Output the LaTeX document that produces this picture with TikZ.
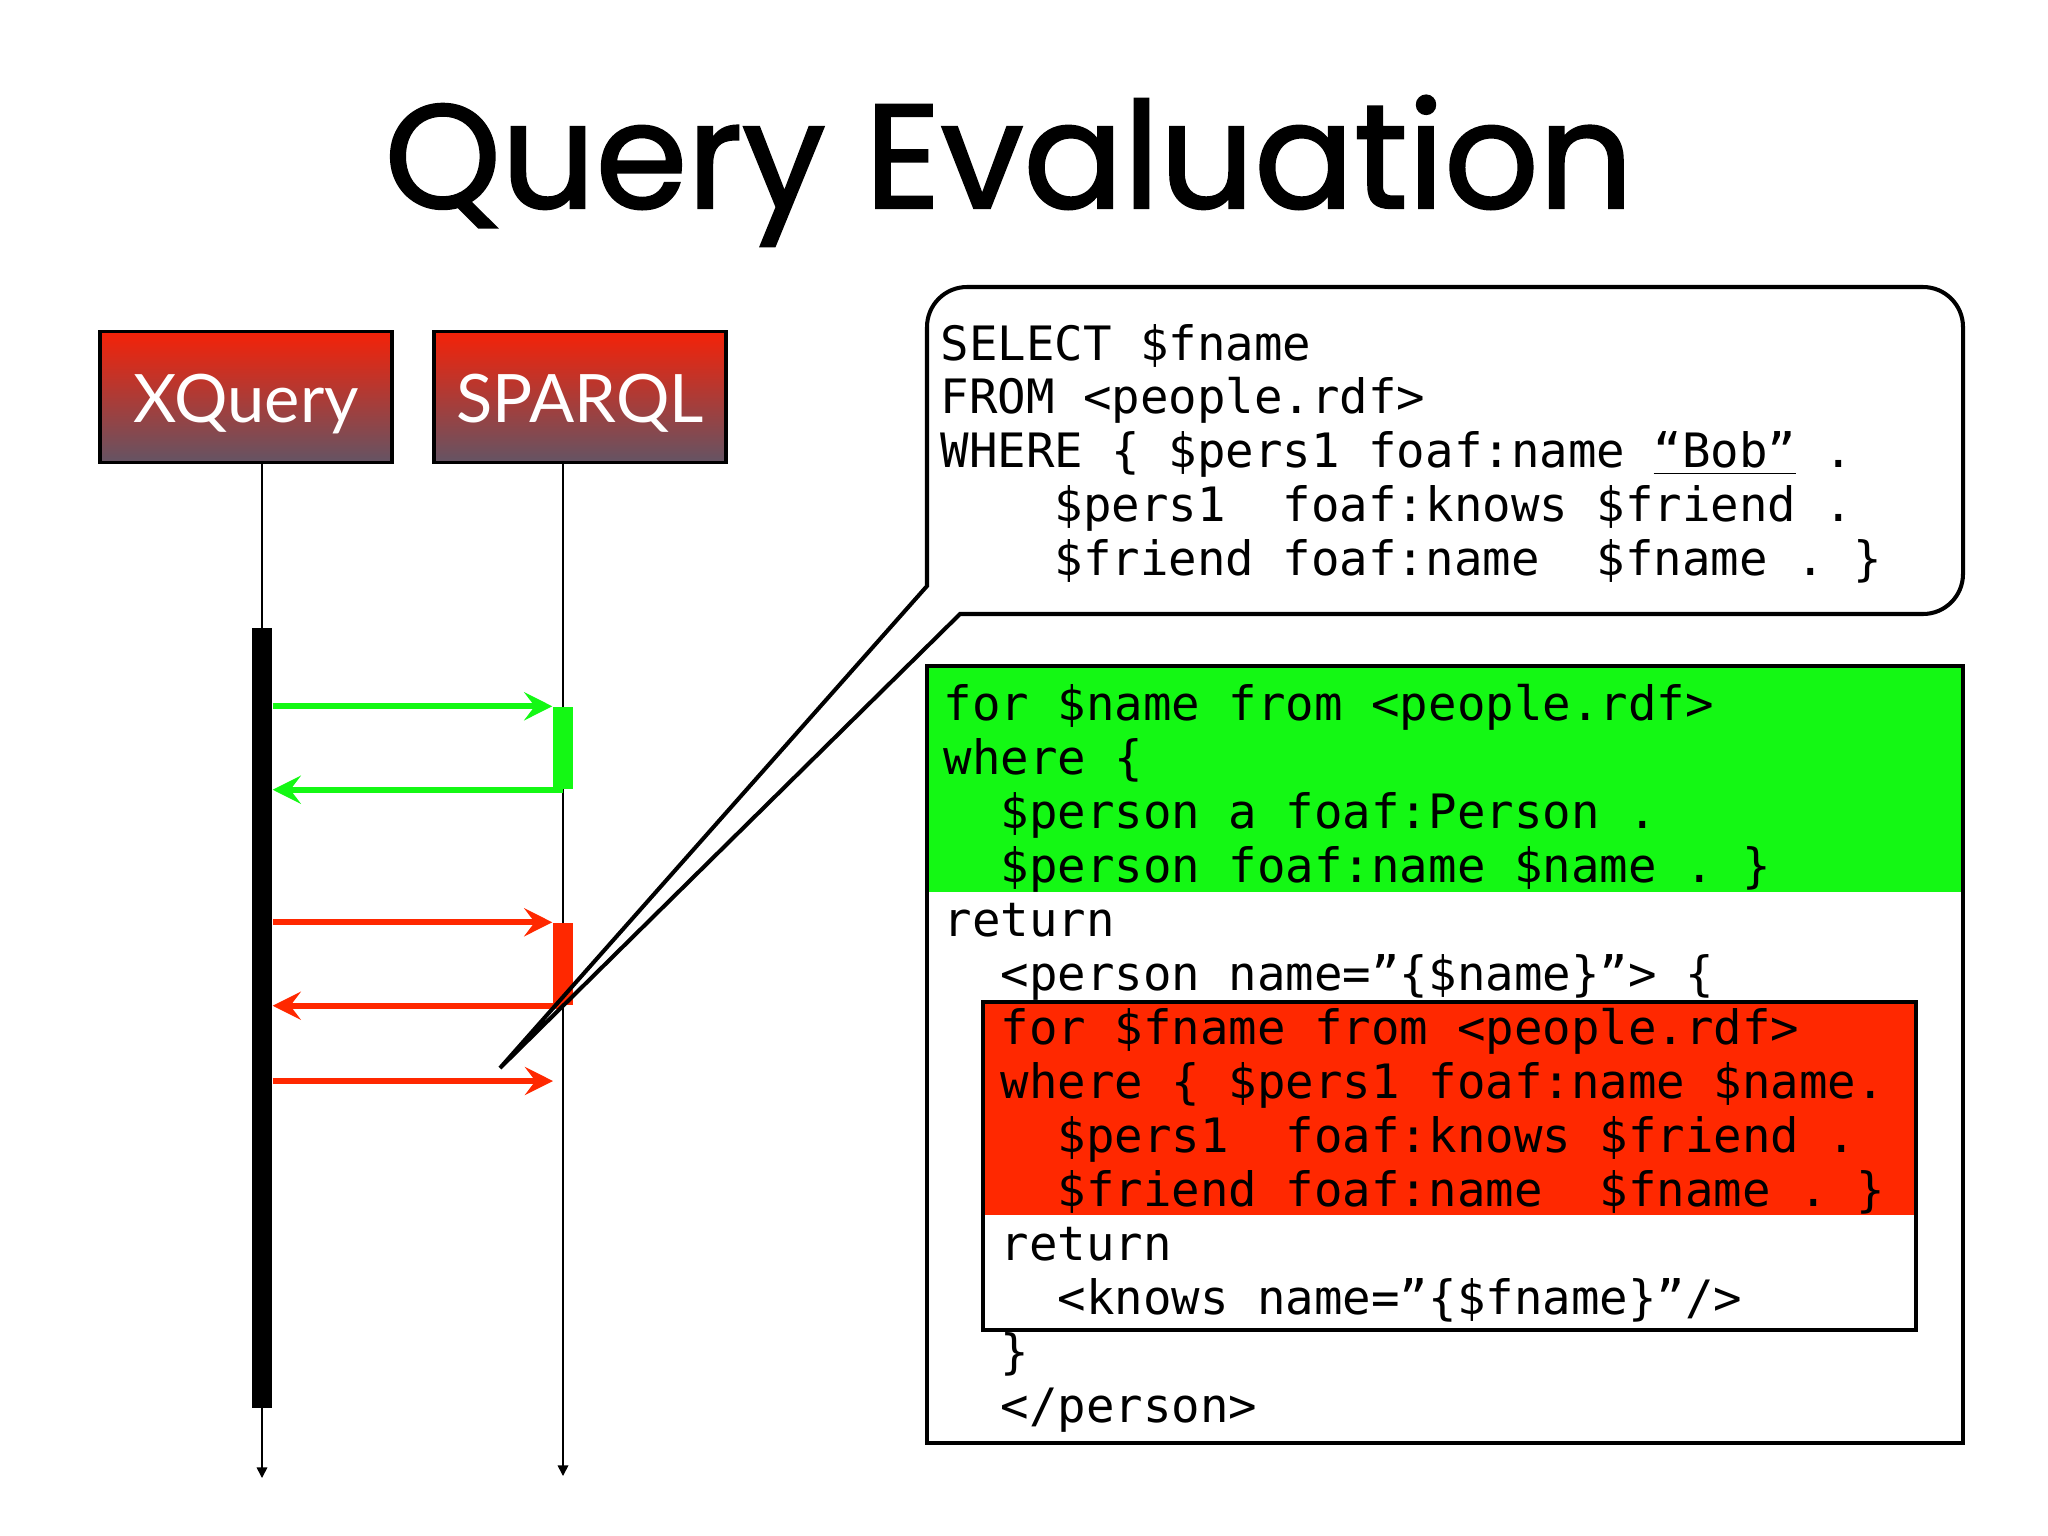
\documentclass[tikz,border=0pt]{standalone}
\usepackage{fontspec}
\usetikzlibrary{arrows.meta}
\newfontfamily\codefont{DejaVu Sans Mono}
\newfontfamily\labelfont{Lato}
\newfontfamily\handfont[FakeBold=1.6]{Poppins}
\definecolor{msggreen}{RGB}{20,248,20}
\definecolor{msgred}{RGB}{255,40,0}
\definecolor{boxtop}{RGB}{245,34,8}
\definecolor{boxbottom}{RGB}{100,84,100}
\tikzstyle{actor}=[rectangle,draw=black,line width=1.1pt,top color=boxtop,bottom color=boxbottom,minimum width=2.92cm,minimum height=1.31cm,text=white,font=\labelfont\fontsize{19}{22}\selectfont,text height=0.5cm,text depth=0cm]
\tikzstyle{lifeline}=[draw=black,line width=0.45pt,-{Triangle[length=3pt,width=3pt]}]
\tikzstyle{activation}=[rectangle,inner sep=0pt,minimum width=0.2cm]
\tikzstyle{msg}=[line width=1.7pt,-{Stealth[length=8pt,width=8pt,inset=3pt]}]
\tikzstyle{code}=[anchor=base west,inner sep=0pt,font=\codefont\fontsize{13.47}{15.4}\selectfont]
\tikzstyle{frame}=[draw=black,line width=1.15pt]
\newcommand{\codetab}{\hphantom{xx}}
\frenchspacing
\begin{document}
\begin{tikzpicture}[x=0.01cm,y=-0.01cm]
    \useasboundingbox (0,0) rectangle (2048,1536);
    \node[font=\handfont\fontsize{42}{50}\selectfont,anchor=base] (title) at (1009,208) {Query Evaluation};
    % actors and lifelines
    \node[actor] (xquery) at (246,397) {XQuery};
    \node[actor] (sparql) at (580,397) {SPARQL};
    \coordinate (xq line) at (262,1478);
    \coordinate (sp line) at (563,1476);
    \draw[lifeline] (xquery.south -| xq line) -- (xq line);
    \draw[lifeline] (sparql.south -| sp line) -- (sp line);
    \node[activation,fill=black,minimum height=7.8cm] (xq bar) at (262,1018) {};
    \node[activation,fill=msggreen,minimum height=0.82cm] (green bar) at (563,748) {};
    \node[activation,fill=msgred,minimum height=0.82cm] (red bar) at (563,964) {};
    % messages
    \draw[msg,msggreen] (xq bar.east |- green bar.north) -- (green bar.north west);
    \draw[msg,msggreen] (green bar.south) -- (xq bar.east |- green bar.south);
    \draw[msg,msgred] (xq bar.east |- red bar.north) -- (red bar.north west);
    \draw[msg,msgred] (red bar.south) -- (xq bar.east |- red bar.south);
    \coordinate (call) at (553,1081);
    \draw[msg,msgred] (xq bar.east |- call) -- (call);
    % callout
    \coordinate (tail tip) at (500,1068);
    \draw[frame] (tail tip) -- (960,614) [rounded corners=0.4cm] -- (1963,614) -- (1963,287) -- (927,287) [sharp corners] -- (927,586) -- cycle;
    \foreach \txt [count=\i] in {{SELECT \$fname},{FROM <people.rdf>},{WHERE \{ \$pers1 foaf:name \underline{“Bob”} .},{\codetab\codetab\$pers1~~foaf:knows \$friend .},{\codetab\codetab\$friend foaf:name~~\$fname . \}}} {
        \node[code] (sql \i) at (940,{360+53.8*(\i-1)}) {\txt};
    }
    % xquery listing
    \fill[msggreen] (927,666) rectangle (1963,892);
    \fill[msgred] (983,1002) rectangle (1916,1215);
    \draw[frame] (983,1002) rectangle (1916,1330);
    \draw[frame] (927,666) rectangle (1963,1443);
    \foreach \txt [count=\i] in {{for \$name from <people.rdf>},{where \{},{\codetab\$person a foaf:Person .},{\codetab\$person foaf:name \$name . \}},{return},{\codetab<person name=”\{\$name\}”> \{},{\codetab for \$fname from <people.rdf>},{\codetab where \{ \$pers1 foaf:name \$name.},{\codetab\codetab\$pers1~~foaf:knows \$friend .},{\codetab\codetab\$friend foaf:name~~\$fname . \}},{\codetab return},{\codetab\codetab<knows name=”\{\$fname\}”/>},{\codetab\}},{\codetab</person>}} {
        \node[code] (xq \i) at (943,{720+54*(\i-1)}) {\txt};
    }
\end{tikzpicture}
\end{document}
